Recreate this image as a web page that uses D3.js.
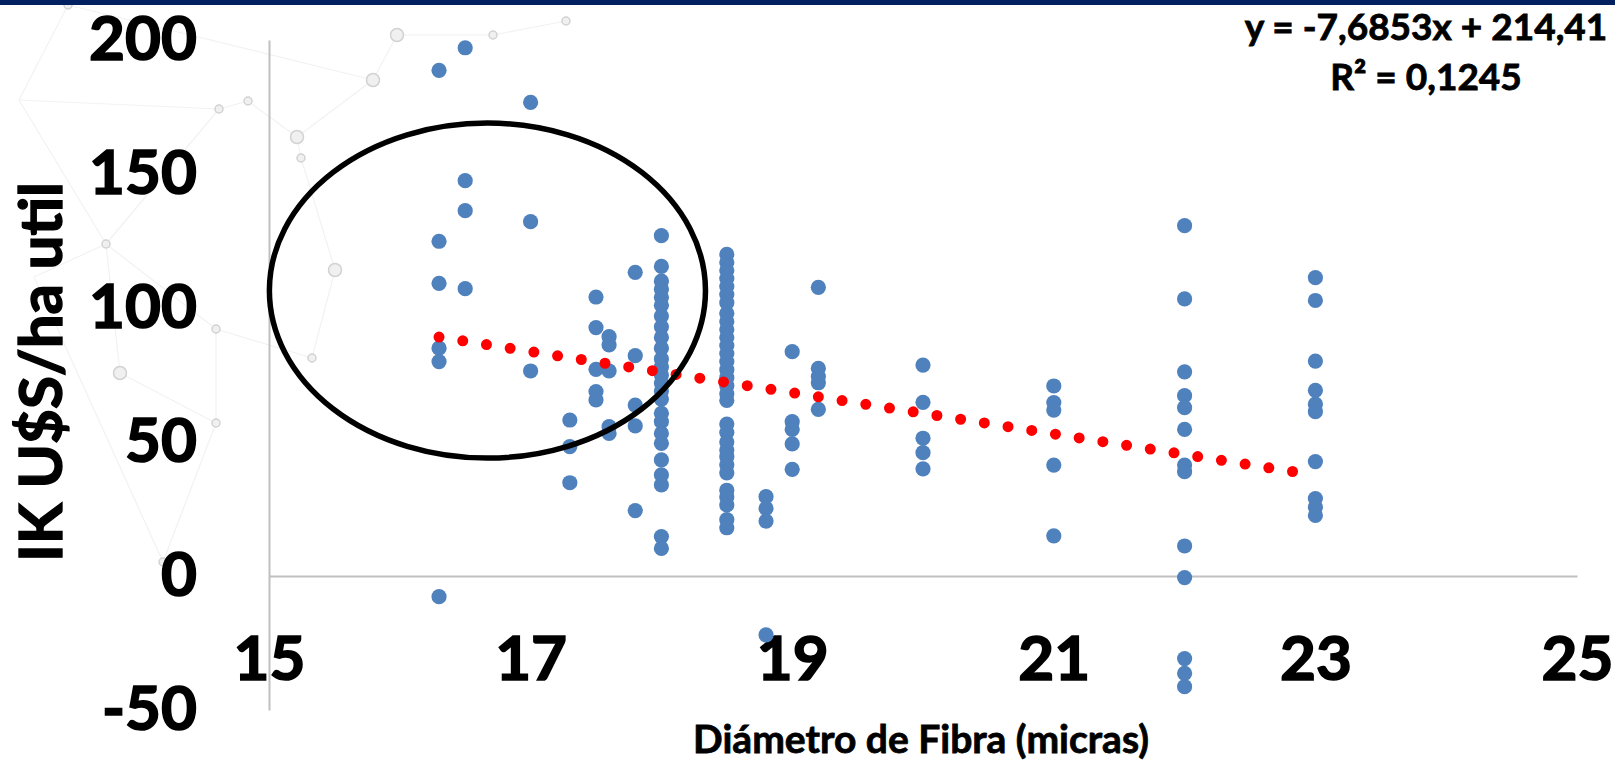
<!DOCTYPE html>
<html>
<head>
<meta charset="utf-8">
<script src="https://cdnjs.cloudflare.com/ajax/libs/d3/7.8.5/d3.min.js"></script>
<style>
  body { margin: 0; background: #fff; }
  svg { display: block; font-family: Lato, "Open Sans", sans-serif; font-weight: 700; }
</style>
</head>
<body>
<svg width="1615" height="761"></svg>
<script>
// Datos: diametro de fibra (micras) e IK U$S/ha util
var diametros = [16.3, 16.5, 17.0, 17.3, 17.5, 17.6, 17.8, 18.0, 18.5, 18.8, 19.0, 19.2, 20.0, 21.0, 22.0, 23.0];
var ikValores = [
  [188.7, 124.9, 109.2, 85.0, 80.0, -7.7],
  [197.1, 147.5, 136.3, 107.2],
  [176.7, 132.2, 76.5],
  [58.2, 48.3, 34.8],
  [104.1, 92.7, 77.1, 68.8, 65.7],
  [89.3, 86.2, 76.5, 55.7, 53.2],
  [113.3, 82.2, 63.8, 56.0, 24.4],
  [127.0, 115.5, 110, 107, 104, 101, 97, 93, 89, 85, 81, 78, 75, 72, 69, 66, 60.7, 57.6, 53.2, 49.5, 43.3, 37.7, 34.0, 14.7, 10.3],
  [120, 117, 114, 111, 108, 105, 102, 98, 95, 92, 89, 86, 83, 80, 77, 74, 71, 68, 65.5, 56.7, 53.5, 50, 47, 44.5, 41.5, 38.5, 32, 29.5, 26.5, 21, 18],
  [29.6, 25.2, 20.5, -22.0],
  [83.7, 57.6, 54.7, 49.3, 39.8],
  [107.7, 77.5, 74.4, 72.1, 62.2],
  [78.7, 64.8, 51.4, 46.0, 40.0],
  [70.9, 64.7, 61.9, 41.4, 15.0],
  [130.7, 103.4, 76.2, 67.3, 62.8, 54.7, 41.4, 38.9, 11.2, -0.6, -30.8, -36.3, -41.3],
  [111.3, 102.8, 80.2, 69.3, 64.1, 61.3, 42.7, 28.9, 25.7, 22.6]
];
var xTicks = [15, 17, 19, 21, 23, 25];
var yTicks = [-50, 0, 50, 100, 150, 200];

// linea de tendencia
var pendiente = -7.6853, intercepto = 214.41;
var tendenciaRango = [16.3, 23];
var ecuacionTexto = "y = -7,6853x + 214,41";
var r2Texto = "R² = 0,1245";

// elipse resaltada (en unidades del grafico)
var elipseCentro = [16.67, 106.5];
var elipseRadio = [1.667, 62.5];

var svg = d3.select("svg");

// fondo decorativo (red de nodos grises)
var nodos = [[68,5],[397,35],[493,35],[566,21],[373,80],[219,109],[248,101],[297,137],[301,158],
  [106,244],[335,270],[216,329],[312,358],[120,373],[19,100],[216,423],[163,562],[34,277]];
var enlaces = [[14,5],[14,9],[14,0],[5,6],[6,7],[7,8],[4,1],[4,7],[1,2],[2,3],[0,4],[8,10],[9,17],
  [9,13],[10,12],[11,12],[11,9],[13,15],[15,16],[16,17],[5,9],[11,15]];
var deco = svg.append("g");
deco.selectAll("line")
  .data(enlaces)
  .enter().append("line")
  .attr("x1", function(d) { return nodos[d[0]][0]; })
  .attr("y1", function(d) { return nodos[d[0]][1]; })
  .attr("x2", function(d) { return nodos[d[1]][0]; })
  .attr("y2", function(d) { return nodos[d[1]][1]; })
  .style("stroke", "#f2f2f2")
  .style("stroke-width", 1.2);
deco.selectAll("circle")
  .data(nodos.filter(function(d, i) { return i != 14 && i != 17; }))
  .enter().append("circle")
  .attr("cx", function(d) { return d[0]; })
  .attr("cy", function(d) { return d[1]; })
  .attr("r", function(d, i) { return i % 3 == 1 ? 6.5 : 4; })
  .style("fill", "#f0f0f0")
  .style("stroke", "#d2d2d2")
  .style("stroke-width", 1.5);

// barra superior
svg.append("rect")
  .attr("x", 0).attr("y", 0)
  .attr("width", 1615).attr("height", 5)
  .attr("fill", "#002060");

var x = d3.scaleLinear().domain([15, 25]).range([269, 1577]),
    y = d3.scaleLinear().domain([-50, 200]).range([710, 40]);

var etiqueta = function(d) { return String(d); };

var yAxis = svg.append("g")
  .attr("transform", "translate(" + x(15) + ",0)")
  .call(d3.axisLeft(y).tickValues(yTicks).tickFormat(etiqueta).tickSize(0).tickPadding(72));

var xAxis = svg.append("g")
  .attr("transform", "translate(0," + y(0) + ")")
  .call(d3.axisBottom(x).tickValues(xTicks).tickFormat(etiqueta).tickSize(0).tickPadding(60));

[yAxis, xAxis].forEach(function(a) {
  a.attr("font-family", null).attr("font-size", null);
  a.select(".domain").style("stroke", "#c0c0c0").style("stroke-width", 2);
  a.selectAll("text")
    .style("font-size", "62px")
    .style("fill", "#000")
    .style("stroke", "#000")
    .style("stroke-width", 1.6);
});

// puntos
var puntos = [];
diametros.forEach(function(d, i) {
  ikValores[i].forEach(function(v) { puntos.push({ d: d, ik: v }); });
});

svg.append("g").selectAll("circle")
  .data(puntos)
  .enter().append("circle")
  .attr("cx", function(p) { return x(p.d); })
  .attr("cy", function(p) { return y(p.ik); })
  .attr("r", 7.6)
  .style("fill", "#4f81bd");

// tendencia punteada
var linea = d3.line()
  .x(function(d) { return x(d); })
  .y(function(d) { return y(pendiente * d + intercepto); });

svg.append("path")
  .datum(tendenciaRango)
  .attr("d", linea)
  .style("fill", "none")
  .style("stroke", "#ff0000")
  .style("stroke-width", 11)
  .style("stroke-linecap", "round")
  .style("stroke-dasharray", "0,24");

// elipse
svg.append("ellipse")
  .attr("cx", x(elipseCentro[0]))
  .attr("cy", y(elipseCentro[1]))
  .attr("rx", x(15 + elipseRadio[0]) - x(15))
  .attr("ry", y(0) - y(elipseRadio[1]))
  .style("fill", "none")
  .style("stroke", "#000")
  .style("stroke-width", 5.5);

// textos
var textos = svg.append("g")
  .style("fill", "#000")
  .style("stroke", "#000")
  .style("stroke-width", 0.8);

textos.append("text")
  .attr("x", 1426).attr("y", 40)
  .attr("text-anchor", "middle")
  .style("font-size", "37px")
  .text(ecuacionTexto);

textos.append("text")
  .attr("x", 1426).attr("y", 90)
  .attr("text-anchor", "middle")
  .style("font-size", "37px")
  .text(r2Texto);

textos.append("text")
  .attr("transform", "translate(62,372) rotate(-90)")
  .attr("text-anchor", "middle")
  .style("font-size", "60px")
  .style("stroke-width", 1.4)
  .text("IK U$S/ha util");

textos.append("text")
  .attr("x", 921).attr("y", 753)
  .attr("text-anchor", "middle")
  .style("font-size", "39px")
  .text("Diámetro de Fibra (micras)");
</script>
</body>
</html>
